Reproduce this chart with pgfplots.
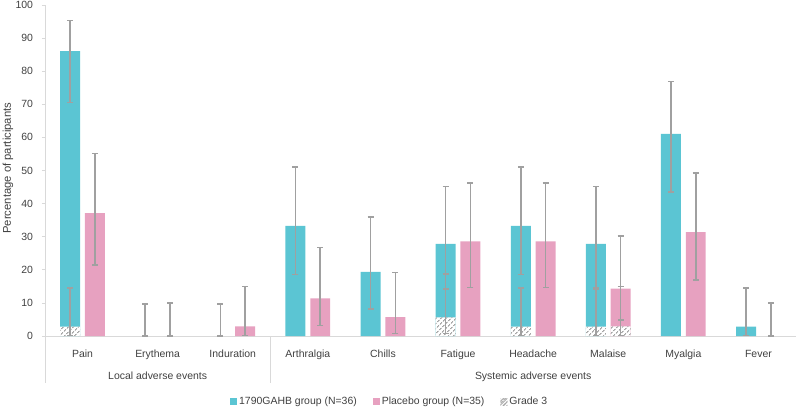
\documentclass[border=0pt]{standalone}
\usepackage{pgfplots}
\pgfplotsset{compat=1.18}
\usepackage{fontspec}
\setmainfont{Liberation Sans}
\usetikzlibrary{patterns,patterns.meta}
\definecolor{cyanbar}{RGB}{91,197,211}
\definecolor{pinkbar}{RGB}{231,161,192}
\definecolor{errgray}{RGB}{160,160,160}
\definecolor{hatchgray}{RGB}{165,165,165}
\definecolor{axisgray}{RGB}{217,217,217}
\definecolor{txt}{RGB}{64,64,64}
\newcommand{\lf}{\fontsize{10.5}{12}\selectfont}
\begin{document}
\begin{tikzpicture}
\begin{axis}[
  scale only axis, width=751bp, height=331bp,
  xmin=-0.5, xmax=9.5, ymin=0, ymax=100,
  clip=false,
  axis x line=bottom, axis y line=left,
  axis line style={draw=axisgray, line width=0.8bp, -},
  ytick={0,10,...,100},
  xtick={0,...,9},
  xtick style={draw=none},
  ytick style={draw=axisgray, line width=0.8bp},
  ytick align=outside, major tick length=3bp,
  xticklabels={Pain,Erythema,Induration,Arthralgia,Chills,Fatigue,Headache,Malaise,Myalgia,Fever},
  /pgf/number format/assume math mode=true,
  xticklabel style={anchor=base, yshift=-20bp, text=txt, font=\lf},
  yticklabel style={anchor=east, xshift=-5.5bp, text=txt, font=\lf},
  ylabel={Percentage of participants},
  every axis y label/.style={at={([xshift=-37bp]axis description cs:0,0.507)}, rotate=90, anchor=center, text=txt, font=\fontsize{11.3}{13}\selectfont},
  legend style={at={(axis description cs:0.459,-0.199)}, anchor=center, draw=none, fill=none,
    legend columns=3, text=txt, font=\lf,
    /tikz/every even column/.append style={column sep=14bp}},
]
% bars
\addplot[ybar, bar width=0.266, bar shift=0, fill=cyanbar, draw=none,
  legend image code/.code={\fill[cyanbar] (0bp,-3.5bp) rectangle (7bp,3.5bp);}] coordinates {
 (-0.165,86.1) (2.835,33.3) (3.835,19.4) (4.835,27.8) (5.835,33.3) (6.835,27.8) (7.835,61.1) (8.835,2.8)};
\addlegendentry{1790GAHB group (N=36)}
\addplot[ybar, bar width=0.266, bar shift=0, fill=pinkbar, draw=none,
  legend image code/.code={\fill[pinkbar] (0bp,-3.5bp) rectangle (7bp,3.5bp);}] coordinates {
 (0.165,37.1) (2.165,2.9) (3.165,11.4) (4.165,5.7) (5.165,28.6) (6.165,28.6) (7.165,14.3) (8.165,31.4)};
\addlegendentry{Placebo group (N=35)}
% grade 3 bars
\addplot[ybar, bar width=0.266, bar shift=0, draw=none, fill=white,
  postaction={pattern={Lines[angle=45,distance=3.6bp,line width=1.3bp]}, pattern color=hatchgray},
  legend image code/.code={\fill[pattern={Lines[angle=45,distance=2.6bp,line width=0.9bp]}, pattern color=hatchgray] (0bp,-3.5bp) rectangle (7bp,3.5bp);}] coordinates {
 (-0.165,2.8) (4.835,5.6) (5.835,2.8) (6.835,2.8) (7.165,2.9)};
\addlegendentry{Grade 3}
% error bars
\pgfplotsset{errstyle/.style={draw=none, mark=none, forget plot,
  error bars/.cd, y dir=both, y explicit,
  error bar style={line width=1.6bp, color=errgray},
  error mark options={line width=1.6bp, mark size=3bp, color=errgray, rotate=90}}}
\addplot[errstyle] coordinates {
 (-0.165,86.1) += (0,9.2) -= (0,15.6)
 (0.835,0) += (0,9.7) -= (0,0)
 (1.835,0) += (0,9.7) -= (0,0)
 (2.835,33.3) += (0,17.7) -= (0,14.7)
 (3.835,19.4) += (0,16.6) -= (0,11.2)
 (4.835,27.8) += (0,17.4) -= (0,13.6)
 (5.835,33.3) += (0,17.7) -= (0,14.7)
 (6.835,27.8) += (0,17.4) -= (0,13.6)
 (7.835,61.1) += (0,15.8) -= (0,17.6)
 (8.835,2.8) += (0,11.7) -= (0,2.7)};
\addplot[errstyle] coordinates {
 (0.165,37.1) += (0,18.0) -= (0,15.6)
 (1.165,0) += (0,10.0) -= (0,0)
 (2.165,2.9) += (0,12.0) -= (0,2.8)
 (3.165,11.4) += (0,15.3) -= (0,8.2)
 (4.165,5.7) += (0,13.5) -= (0,5.0)
 (5.165,28.6) += (0,17.7) -= (0,14.0)
 (6.165,28.6) += (0,17.7) -= (0,14.0)
 (7.165,14.3) += (0,16.0) -= (0,9.5)
 (8.165,31.4) += (0,17.9) -= (0,14.5)
 (9.165,0) += (0,10.0) -= (0,0)};
\addplot[errstyle] coordinates {
 (-0.165,2.8) += (0,11.7) -= (0,2.7)
 (4.835,5.6) += (0,13.1) -= (0,4.9)
 (5.835,2.8) += (0,11.7) -= (0,2.7)
 (6.835,2.8) += (0,11.7) -= (0,2.7)
 (7.165,2.9) += (0,12.0) -= (0,2.8)};
% group separators and labels
\draw[axisgray, line width=0.8bp] (axis cs:-0.5,0) -- ([yshift=-47bp]axis cs:-0.5,0);
\draw[axisgray, line width=0.8bp] (axis cs:2.5,0) -- ([yshift=-47bp]axis cs:2.5,0);
\draw[axisgray, line width=0.8bp] (axis cs:9.5,0) -- ([yshift=-47bp]axis cs:9.5,0);
\node[anchor=base, text=txt, font=\lf] at ([yshift=-43.5bp]axis cs:1,0) {Local adverse events};
\node[anchor=base, text=txt, font=\lf] at ([yshift=-43.5bp]axis cs:6,0) {Systemic adverse events};
\end{axis}
\pgfresetboundingbox
\path[use as bounding box] (-45bp,-73bp) rectangle (751bp,336bp);
\end{tikzpicture}
\end{document}
